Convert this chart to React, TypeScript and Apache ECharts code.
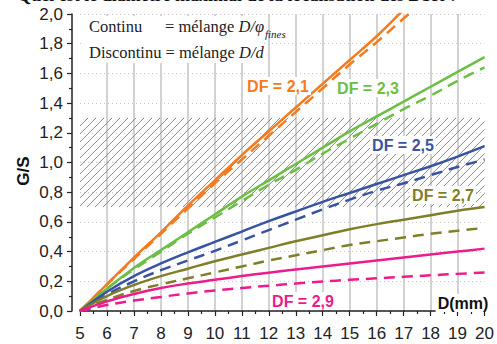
import React, { useEffect, useRef } from "react";
import * as echarts from "echarts";

// D (mm)
const xs = [5, 6, 7, 8, 9, 10, 11, 12, 13, 14, 15, 16, 17, 18, 19, 20];

// G/S — "Continu" (solid) and "Discontinu" (dashed) for each DF
const df21Continu = [0, 0.18, 0.36, 0.53, 0.71, 0.88, 1.05, 1.21, 1.37, 1.53, 1.69, 1.85, 2.03];
const df21Discontinu = [0, 0.18, 0.35, 0.52, 0.69, 0.86, 1.02, 1.18, 1.34, 1.5, 1.66, 1.81, 1.97, 2.12];
const df23Continu = [0, 0.15, 0.29, 0.41, 0.53, 0.65, 0.77, 0.88, 0.99, 1.1, 1.21, 1.31, 1.41, 1.51, 1.61, 1.71];
const df23Discontinu = [0, 0.15, 0.28, 0.4, 0.52, 0.63, 0.74, 0.85, 0.95, 1.06, 1.16, 1.26, 1.36, 1.45, 1.55, 1.64];
const df25Continu = [0, 0.13, 0.235, 0.32, 0.395, 0.465, 0.535, 0.605, 0.67, 0.735, 0.795, 0.855, 0.915, 0.975, 1.04, 1.11];
const df25Discontinu = [0, 0.11, 0.2, 0.275, 0.34, 0.405, 0.475, 0.545, 0.615, 0.685, 0.75, 0.81, 0.86, 0.915, 0.97, 1.02];
const df27Continu = [0, 0.1, 0.175, 0.235, 0.285, 0.335, 0.38, 0.425, 0.47, 0.51, 0.55, 0.585, 0.615, 0.645, 0.675, 0.7];
const df27Discontinu = [0, 0.075, 0.135, 0.18, 0.22, 0.26, 0.3, 0.34, 0.375, 0.41, 0.445, 0.47, 0.495, 0.52, 0.54, 0.56];
const df29Continu = [0, 0.065, 0.115, 0.155, 0.185, 0.21, 0.235, 0.258, 0.28, 0.3, 0.32, 0.34, 0.36, 0.38, 0.4, 0.42];
const df29Discontinu = [0, 0.04, 0.07, 0.095, 0.118, 0.138, 0.155, 0.17, 0.185, 0.198, 0.21, 0.22, 0.23, 0.24, 0.25, 0.26];

const hatchBand = [0.7, 1.3];
const xRange = [5, 20];
const yRange = [0, 2];

const dfLabels = ["DF = 2,1", "DF = 2,3", "DF = 2,5", "DF = 2,7", "DF = 2,9"];
const colors = ["#F47B20", "#6CBE45", "#3953A4", "#7F7F2B", "#EC1C8C"];

const pairs = (ys: number[]) => ys.map((y, i) => [xs[i], y]);

export default function App() {
  const ref = useRef<HTMLDivElement>(null);
  useEffect(() => {
    if (!ref.current) return;
    const chart = echarts.init(ref.current, undefined, { renderer: "svg" });
    const groups = [
      [df21Continu, df21Discontinu],
      [df23Continu, df23Discontinu],
      [df25Continu, df25Discontinu],
      [df27Continu, df27Discontinu],
      [df29Continu, df29Discontinu],
    ];
    const lineSeries: any[] = [];
    groups.forEach((g, i) => {
      lineSeries.push({
        type: "line",
        data: pairs(g[0]),
        smooth: 0.4,
        showSymbol: false,
        symbol: "none",
        z: 5,
        lineStyle: { color: colors[i], width: 2.5 },
      });
      lineSeries.push({
        type: "line",
        data: pairs(g[1]),
        smooth: 0.4,
        showSymbol: false,
        symbol: "none",
        z: 5,
        lineStyle: { color: colors[i], width: 2.5, type: [11, 7] },
      });
    });

    const hatch = {
      type: "custom",
      silent: true,
      z: 1,
      clip: true,
      data: [[xRange[0], hatchBand[1], xRange[1], hatchBand[0]]],
      encode: { x: [0, 2], y: [1, 3] },
      renderItem: (_p: any, api: any) => {
        const a = api.coord([api.value(0), api.value(1)]);
        const b = api.coord([api.value(2), api.value(3)]);
        const x0 = a[0], y0 = a[1], x1 = b[0], y1 = b[1];
        const h = y1 - y0;
        const children: any[] = [];
        for (let c = x0 - h; c < x1; c += 8) {
          let sx = c, sy = y1, ex = c + h, ey = y0;
          if (sx < x0) { sy = y1 - (x0 - sx); sx = x0; }
          if (ex > x1) { ey = y0 + (ex - x1); ex = x1; }
          if (ex <= sx) continue;
          children.push({
            type: "line",
            shape: { x1: sx, y1: sy, x2: ex, y2: ey },
            style: { stroke: "#8a8a8a", lineWidth: 1 },
          });
        }
        return { type: "group", children };
      },
    };

    const labelFont = { fontFamily: "Liberation Sans", fontWeight: "bold", fontSize: 16 };
    const labelPos = [
      [278, 86],
      [368, 88],
      [403, 145],
      [443, 195],
      [303, 301],
    ];
    const dfTexts = dfLabels.map((t, i) => ({
      type: "text",
      x: labelPos[i][0],
      y: labelPos[i][1],
      z: 30,
      style: {
        text: t,
        ...labelFont,
        fill: colors[i],
        align: "center",
        verticalAlign: "middle",
        backgroundColor: "#fff",
        padding: [1, 2],
      },
    }));
    const serif = "Liberation Serif";

    chart.setOption({
      animation: false,
      grid: { left: 80, right: 10, top: 14, bottom: 33 },
      xAxis: {
        type: "value",
        min: xRange[0],
        max: xRange[1],
        interval: 1,
        offset: 7,
        axisLine: { show: true, lineStyle: { color: "#222", width: 1.5 } },
        axisTick: { show: true, length: 5, lineStyle: { color: "#222", width: 1.2 } },
        minorTick: { show: true, splitNumber: 2, length: 3, lineStyle: { color: "#222", width: 1.2 } },
        axisLabel: { color: "#222", fontSize: 17, fontFamily: "Liberation Sans", margin: 7 },
        splitLine: {
          show: true,
          showMinLine: false,
          showMaxLine: false,
          lineStyle: { color: "#d2d2d2", width: 2 },
        },
      },
      yAxis: {
        type: "value",
        min: yRange[0],
        max: yRange[1],
        interval: 0.2,
        offset: 8,
        axisLine: { show: true, lineStyle: { color: "#222", width: 1.5 } },
        axisTick: { show: true, length: 5, lineStyle: { color: "#222", width: 1.2 } },
        minorTick: { show: true, splitNumber: 2, length: 3, lineStyle: { color: "#222", width: 1.2 } },
        axisLabel: {
          color: "#222",
          fontSize: 17,
          fontFamily: "Liberation Sans",
          margin: 9,
          formatter: (v: number) => v.toFixed(1).replace(".", ","),
        },
        splitLine: {
          show: true,
          lineStyle: { color: "#c8c8c8", width: 1, type: [1, 3] },
        },
      },
      series: [hatch, ...lineSeries],
      graphic: [
        {
          type: "text",
          x: 458,
          y: -5,
          z: 40,
          style: {
            text: "Quel est le diamètre maximal de la localisation des DSR ?",
            fontFamily: serif,
            fontWeight: "bold",
            fontSize: 18,
            fill: "#111",
            align: "right",
            verticalAlign: "middle",
          },
        },
        {
          type: "rect",
          z: 20,
          shape: { x: 84, y: 16, width: 180, height: 47 },
          style: { fill: "#fff" },
        },
        {
          type: "text",
          x: 89,
          y: 26,
          z: 21,
          style: { text: "Continu", fontFamily: serif, fontSize: 16.5, fill: "#222", verticalAlign: "middle" },
        },
        {
          type: "text",
          x: 165,
          y: 26,
          z: 21,
          style: {
            text: "= mélange {i|D/φ}",
            fontFamily: serif,
            fontSize: 16.5,
            fill: "#222",
            verticalAlign: "middle",
            rich: { i: { fontFamily: serif, fontSize: 16.5, fontStyle: "italic", fill: "#222" } },
          },
        },
        {
          type: "text",
          x: 265,
          y: 34,
          z: 21,
          style: { text: "fines", fontFamily: serif, fontSize: 11, fontStyle: "italic", fill: "#222", verticalAlign: "middle" },
        },
        {
          type: "text",
          x: 89,
          y: 52,
          z: 21,
          style: {
            text: "Discontinu = mélange {i|D/d}",
            fontFamily: serif,
            fontSize: 16.5,
            fill: "#222",
            verticalAlign: "middle",
            rich: { i: { fontFamily: serif, fontSize: 16.5, fontStyle: "italic", fill: "#222" } },
          },
        },
        ...dfTexts,
        {
          type: "text",
          x: 463,
          y: 303,
          z: 30,
          style: {
            text: "D(mm)",
            ...labelFont,
            fill: "#111",
            align: "center",
            verticalAlign: "middle",
            backgroundColor: "#fff",
            padding: [1, 2],
          },
        },
        {
          type: "text",
          x: 23,
          y: 171,
          z: 30,
          rotation: Math.PI / 2,
          style: {
            text: "G/S",
            ...labelFont,
            fontSize: 17,
            fill: "#111",
            align: "center",
            verticalAlign: "middle",
          },
        },
      ],
    });
    return () => chart.dispose();
  }, []);
  return <div ref={ref} style={{ width: 497, height: 344, position: "absolute", left: 0, top: 0 }} />;
}
